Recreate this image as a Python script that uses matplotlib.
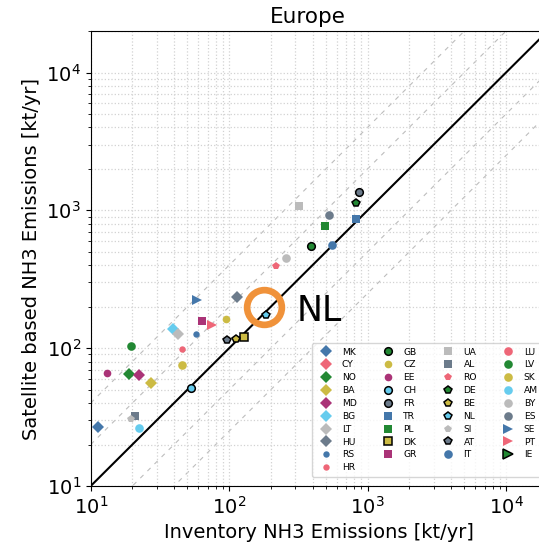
"""Satellite vs inventory NH3 emissions, European countries (log-log)."""
import numpy as np
import matplotlib.pyplot as plt
import matplotlib.transforms as mtransforms

countries = ['MK', 'CY', 'NO', 'BA', 'MD', 'BG', 'LT', 'HU', 'RS', 'HR',
             'GB', 'CZ', 'EE', 'CH', 'FR', 'TR', 'PL', 'DK', 'GR',
             'UA', 'AL', 'RO', 'DE', 'BE', 'NL', 'SI', 'AT', 'IT',
             'LU', 'LV', 'SK', 'AM', 'BY', 'ES', 'SE', 'PT', 'IE']

# inventory [kt/yr]; nan = not visible in the plotted range
inventory = [11.3, np.nan, 19.0, 27.4, 22.2, 39.4, 42.8, 113.5, 57.4, 45.9,
             393, 95.0, 13.2, 53.3, 869, 822, 491, 129, 64.0,
             318, 20.8, 218, 830, 112, 184, 19.6, 97.0, 551,
             np.nan, 19.6, 45.7, 22.3, 258, 525, 58.3, 75.2, np.nan]
satellite = [26.9, np.nan, 65.0, 56.2, 64.0, 137, 127, 234, 126, 98.0,
             555, 164, 65.7, 51.7, 1368, 871, 771, 120, 157,
             1077, 32.4, 395, 1127, 117, 175, 30.5, 115, 561,
             np.nan, 103, 75.9, 26.5, 449, 931, 224, 147, np.nan]

# Paul Tol "bright" + a slate grey
BLUE, RED, GREEN, YELLOW = '#4477AA', '#EE6677', '#228833', '#CCBB44'
PURPLE, CYAN, GREY, SLATE = '#AA3377', '#66CCEE', '#BBBBBB', '#6C7B8B'

colors = [BLUE, RED, GREEN, YELLOW, PURPLE, CYAN, GREY, SLATE, BLUE, RED,
          GREEN, YELLOW, PURPLE, CYAN, SLATE, BLUE, GREEN, YELLOW, PURPLE,
          GREY, SLATE, RED, GREEN, YELLOW, CYAN, GREY, SLATE, BLUE,
          RED, GREEN, YELLOW, CYAN, GREY, SLATE, BLUE, RED, GREEN]
markers = ['D'] * 8 + ['o'] * 2 + ['o'] * 5 + ['s'] * 6 + ['p'] * 6 \
    + ['o'] * 7 + ['>'] * 3
msizes = [6.0] * 8 + [4.6] * 2 + [5.5] * 5 + [5.8] * 6 + [5.6] * 6 \
    + [6.2] * 7 + [6.8] * 3
edged = {'GB', 'CH', 'FR', 'DK', 'DE', 'BE', 'NL', 'AT', 'IE'}

factors = [4, 2, 0.5, 0.25]
lims = (10, 2e4)

plt.rcParams['font.size'] = 14
fig = plt.figure(figsize=(5.39, 5.44), dpi=100)
ax = fig.add_axes([0.1683, 0.1066, 0.8479, 0.8364])

ax.set_xscale('log')
ax.set_yscale('log')
ax.set_xlim(*lims)
ax.set_ylim(*lims)
ax.grid(True, which='both', color='#d2d2d2', ls=':', lw=0.9, zorder=0)

xx = np.array(lims)
ax.plot(xx, xx, color='black', lw=1.5, zorder=2)
for f in factors:
    ax.plot(xx, xx * f, color='#bdbdbd', lw=0.8, ls=(0, (4, 5)), zorder=1)

for c, x, y, col, m, ms in zip(countries, inventory, satellite, colors,
                               markers, msizes):
    ec = 'black' if c in edged else col
    mew = 1.1 if c in edged else 0.0
    ax.plot([x], [y], ls='none', marker=m, ms=ms, color=col, mec=ec,
            mew=mew, label=c, zorder=3)

# highlight NL
i_nl = countries.index('NL')
ring = mtransforms.offset_copy(ax.transData, fig=fig, x=-2, y=8, units='dots')
ax.plot([inventory[i_nl]], [satellite[i_nl]], marker='o', ms=25, mfc='none',
        mec='#F0923A', mew=4.8, transform=ring, zorder=4)
ax.annotate('NL', xy=(inventory[i_nl], satellite[i_nl]), xytext=(22, 3),
            textcoords='offset points', fontsize=25, ha='left', va='center',
            zorder=5)

ax.legend(ncol=4, fontsize=6.6, loc='lower left', bbox_to_anchor=(0.475, 0.01),
          labelspacing=0.42, handletextpad=0.7, columnspacing=2.4,
          borderpad=0.5, framealpha=0.8)

ax.set_xlabel('Inventory NH3 Emissions [kt/yr]')
ax.set_ylabel('Satellite based NH3 Emissions [kt/yr]')
ax.set_title('Europe', fontsize=15.5, x=0.4755)

fig.savefig('out.png', dpi=100)
